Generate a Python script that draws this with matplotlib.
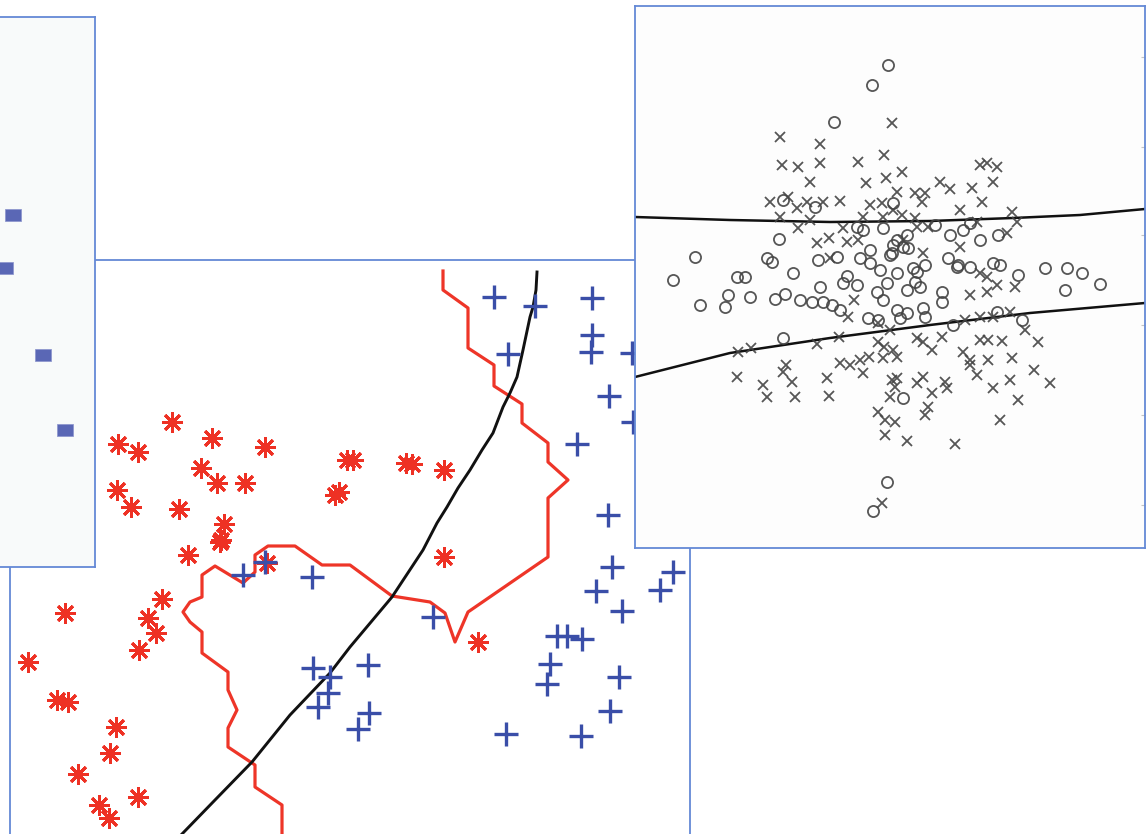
import numpy as np
import matplotlib
matplotlib.use("Agg")
import matplotlib.pyplot as plt

W, H = 1146, 834
frame = "#6489d6"

# left panel: blue squares
sq_x = [13, 5, 43, 65]
sq_y = [215, 268, 355, 430]

# middle panel: red asterisks, blue plus, red boundary, black curve
ast_x = [172, 118, 138, 212, 265, 201, 217, 245, 117, 131, 179, 224, 221, 347, 353,
         406, 412, 444, 335, 339, 188, 220, 267, 162, 148, 156, 139, 65, 28, 57, 68,
         116, 110, 78, 138, 99, 109, 444, 478]
ast_y = [422, 444, 452, 438, 447, 468, 483, 483, 490, 507, 509, 524, 540, 460, 460,
         463, 464, 470, 495, 492, 555, 542, 563, 599, 618, 633, 650, 613, 662, 700, 702,
         727, 753, 774, 797, 805, 818, 557, 642]

plus_x = [494, 535, 592, 592, 591, 508, 632, 609, 577, 608, 633, 243, 265, 312, 313,
          330, 328, 318, 433, 368, 369, 358, 612, 596, 622, 673, 660, 557, 567, 582,
          550, 547, 619, 610, 506, 581]
plus_y = [297, 306, 298, 335, 352, 354, 353, 396, 444, 515, 422, 575, 562, 577, 668,
          677, 693, 707, 617, 665, 713, 729, 567, 591, 611, 572, 590, 636, 636, 639,
          664, 684, 677, 711, 734, 736]

bound_x = [443, 443, 468, 468, 494, 494, 522, 522, 548, 548, 568, 548, 548, 468, 455,
           445, 430, 392, 350, 322, 295, 268, 255, 255, 243, 215, 202, 202, 190, 183,
           190, 202, 202, 228, 228, 237, 228, 228, 255, 255, 282, 282]
bound_y = [271, 290, 308, 348, 365, 386, 404, 423, 443, 462, 480, 498, 557, 612, 642,
           613, 602, 596, 565, 565, 546, 546, 555, 572, 583, 566, 575, 597, 602, 612,
           622, 632, 653, 672, 690, 710, 728, 747, 765, 787, 805, 850]

curve_x = [537, 536, 533, 530, 523, 517, 510, 503, 493, 482, 470, 458, 447, 437, 423,
           392, 350, 330, 290, 252, 215, 182]
curve_y = [272, 290, 307, 317, 350, 377, 393, 407, 433, 450, 470, 488, 507, 523, 550,
           597, 647, 673, 715, 762, 800, 834]

# right panel: circles, crosses and two boundary curves
circ_x = [888, 872, 834, 779, 695, 767, 772, 815, 783, 893, 857, 863, 883, 897, 907,
          903, 935, 950, 963, 970, 980, 998, 818, 837, 860, 870, 890, 948, 958, 970,
          993, 1045, 1067, 1082, 1018, 793, 737, 745, 673, 847, 897, 917, 728, 725,
          700, 750, 775, 785, 800, 812, 823, 832, 840, 820, 843, 857, 877, 887, 907,
          920, 942, 942, 883, 897, 907, 923, 868, 878, 900, 925, 953, 783, 997, 1022,
          1065, 1100, 903, 887, 873, 892, 908, 913, 925, 1000, 957, 893, 880, 870, 915]
circ_y = [65, 85, 122, 239, 257, 258, 262, 207, 200, 203, 227, 230, 228, 240, 235,
          247, 225, 235, 230, 223, 240, 235, 260, 257, 258, 263, 255, 258, 265, 267,
          263, 268, 268, 273, 275, 273, 277, 277, 280, 276, 273, 272, 295, 307,
          305, 297, 299, 294, 300, 302, 302, 305, 310, 287, 283, 285, 292, 283, 290,
          287, 292, 302, 300, 310, 313, 308, 318, 320, 318, 317, 325, 338, 312, 320,
          290, 284, 398, 482, 511, 253, 248, 268, 265, 265, 267, 245, 270, 250, 282]

cross_x = [780, 820, 782, 798, 820, 810, 892, 858, 884, 866, 886, 902, 897, 915, 925,
           922, 940, 950, 972, 982, 960, 980, 987, 997, 993, 770, 788, 797, 807, 823,
           840, 780, 798, 810, 870, 882, 893, 863, 883, 902, 915, 917, 928, 977, 1012,
           1017, 1007, 960, 843, 817, 829, 847, 858, 923, 830, 903, 980, 987, 738, 751,
           737, 763, 767, 786, 783, 792, 795, 817, 827, 829, 839, 854, 848, 840, 850,
           860, 869, 863, 878, 884, 893, 883, 897, 890, 878, 892, 897, 895, 890, 917,
           923, 932, 917, 923, 942, 945, 947, 932, 928, 925, 878, 885, 895, 885, 907,
           955, 963, 970, 970, 977, 988, 980, 988, 1002, 965, 980, 993, 1010, 1012,
           1038, 1025, 1034, 1010, 1050, 993, 1018, 1000, 882, 997, 1015, 970, 987]
cross_y = [137, 144, 165, 167, 163, 182, 123, 162, 155, 183, 178, 172, 192, 193, 193,
           202, 182, 189, 188, 202, 210, 165, 163, 167, 182, 202, 197, 208, 202, 202,
           201, 217, 228, 220, 205, 203, 210, 217, 217, 215, 218, 227, 227, 222, 212,
           222, 233, 247, 228, 243, 238, 242, 240, 253, 258, 240, 273, 277, 352, 348,
           377, 385, 397, 365, 372, 382, 397, 344, 378, 396, 337, 300, 317, 363, 365,
           360, 357, 373, 342, 347, 350, 358, 357, 330, 323, 380, 378, 387, 397, 338,
           342, 350, 383, 377, 337, 382, 388, 393, 407, 415, 412, 420, 422, 435, 441,
           444, 352, 360, 365, 375, 360, 340, 340, 341, 320, 317, 317, 312, 358,
           342, 330, 370, 380, 383, 388, 400, 420, 503, 285, 287, 295, 292]

upper_x = [635, 730, 830, 930, 1013, 1080, 1145]
upper_y = [217, 220, 222, 221, 218, 215, 209]
lower_x = [635, 730, 830, 930, 1030, 1145]
lower_y = [377, 353, 338, 325, 313, 303]
edge_ticks = [57, 147, 235, 325, 415, 505]


def panel(x0, x1, y0, y1, z, face):
    # axes whose data units are the picture's pixels
    ax = fig.add_axes([x0 / W, (H - y1) / H, (x1 - x0) / W, (y1 - y0) / H], zorder=z)
    ax.set_xlim(x0, x1)
    ax.set_ylim(y1, y0)
    ax.set_facecolor(face)
    ax.set_xticks([])
    ax.set_yticks([])
    for s in ax.spines.values():
        s.set_color(frame)
        s.set_linewidth(1.3)
    return ax


fig = plt.figure(figsize=(W / 100, H / 100), dpi=100)

# middle panel
ax = panel(10, 690, 260, 900, 1, "white")
ax.plot(bound_x, bound_y, color="#ee3528", lw=2.3, solid_joinstyle="round", zorder=2)
ax.plot(curve_x, curve_y, color="#111111", lw=2.1, solid_joinstyle="round", zorder=3)
ax.plot(ast_x, ast_y, ls="none", marker=(8, 2, 0), ms=15, mew=2.1, color="#ee3124", zorder=4)
ax.plot(plus_x, plus_y, ls="none", marker="+", ms=17, mew=2.4, color="#3a4ea8", zorder=4)

# left panel
rect = [(-1.25, -1), (1.25, -1), (1.25, 1), (-1.25, 1), (-1.25, -1)]
ax = panel(-10, 95, 17, 567, 2, "#f8fafa")
ax.plot(sq_x, sq_y, ls="none", marker=rect, ms=11, mew=0.5, mec="#8a93cc", color="#5a67b5")

# right panel
ax = panel(635, 1145, 6, 548, 3, "#fdfdfd")
ax.plot(upper_x, upper_y, color="#111111", lw=1.8)
ax.plot(lower_x, lower_y, color="#111111", lw=1.8)
ax.plot(circ_x, circ_y, ls="none", marker="o", ms=8, mfc="none", mec="#444444", mew=1.3, alpha=0.9)
ax.plot(cross_x, cross_y, ls="none", marker="x", ms=7.5, color="#444444", mew=1.3, alpha=0.9)
ax.set_yticks(edge_ticks)
ax.tick_params(axis="y", left=False, right=True, labelleft=False, direction="in",
               length=3, width=0.8, color="#c4c4c4")

fig.savefig("out.png", dpi=100)
